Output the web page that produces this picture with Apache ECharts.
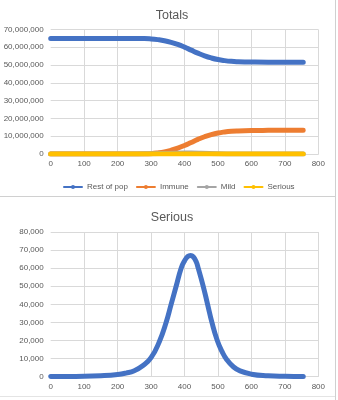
<!DOCTYPE html>
<html>
<head>
<meta charset="utf-8">
<title>Totals / Serious</title>
<script src="https://cdn.jsdelivr.net/npm/echarts@6/dist/echarts.min.js"></script>
<style>
  html, body { margin: 0; padding: 0; background: #ffffff; }
  #chart { width: 338px; height: 400px; }
</style>
</head>
<body>
<div id="chart"></div>
<script>
// Population model output, by day
const restDays = [0, 100, 200, 280, 300, 320, 340, 360, 380, 400, 420, 440, 460, 480, 500, 520, 540, 560, 600, 650, 700, 755];
const restOfPop = [65000000, 65000000, 65000000, 64900000, 64700000, 64300000, 63700000, 62800000, 61600000, 60100000, 58400000, 56700000, 55200000, 54000000, 53100000, 52500000, 52100000, 51900000, 51700000, 51600000, 51600000, 51600000];
const immune = [0, 0, 0, 50000, 200000, 600000, 1200000, 2100000, 3300000, 4800000, 6500000, 8200000, 9700000, 10900000, 11800000, 12400000, 12800000, 13000000, 13200000, 13300000, 13350000, 13400000];

const mildDays = [0, 200, 260, 300, 350, 400, 420, 450, 500, 550, 600, 755];
const mild = [0, 20000, 60000, 150000, 350000, 500000, 520000, 450000, 200000, 60000, 20000, 0];

const seriousDays = [0, 50, 100, 150, 200, 225, 250, 275, 300, 325, 345, 360, 375, 390, 400, 410, 418, 426, 435, 441, 456, 469, 482, 498, 512, 526, 546, 566, 600, 650, 700, 755];
const serious = [100, 150, 200, 500, 1200, 2000, 3300, 6000, 10500, 19500, 30000, 40000, 50000, 60000, 64000, 66500, 67000, 66300, 63500, 60000, 50000, 40000, 30000, 20000, 14000, 9500, 5500, 3200, 1400, 500, 200, 100];

const xTicks = { min: 0, max: 800, interval: 100 };
const totalsAxis = { min: 0, max: 70000000, interval: 10000000 };
const seriousAxis = { min: 0, max: 80000, interval: 10000 };

const legendNames = ['Rest of pop', 'Immune', 'Mild', 'Serious'];
const colors = { rest: '#4472C4', immune: '#ED7D31', mild: '#A5A5A5', serious: '#FFC000' };

const pairs = (xs, ys) => xs.map((x, i) => [x, ys[i]]);

const textColor = '#595959';
const gridColor = '#D9D9D9';
const font = 'Liberation Sans, Arial, sans-serif';

function xAxisFor(gridIndex) {
  return {
    type: 'value', gridIndex,
    min: xTicks.min, max: xTicks.max, interval: xTicks.interval,
    axisLine: { show: true, lineStyle: { color: gridColor, width: 1 } },
    axisTick: { show: false },
    axisLabel: { color: textColor, fontSize: 8, fontFamily: font, margin: 6 },
    splitLine: { show: true, showMinLine: false, lineStyle: { color: gridColor, width: 1 } }
  };
}
function yAxisFor(gridIndex, range) {
  return {
    type: 'value', gridIndex,
    min: range.min, max: range.max, interval: range.interval,
    axisLine: { show: false },
    axisTick: { show: false },
    axisLabel: {
      color: textColor, fontSize: 8, fontFamily: font, margin: 7,
      formatter: v => v.toLocaleString('en-US')
    },
    splitLine: { show: true, lineStyle: { color: gridColor, width: 1 } }
  };
}
function lineSeries(name, color, data, axisIndex, z) {
  return {
    name, type: 'line', data,
    xAxisIndex: axisIndex, yAxisIndex: axisIndex,
    symbol: 'circle', symbolSize: 4, showSymbol: false,
    smooth: 0.5,
    color,
    lineStyle: { color, width: 5, cap: 'round', join: 'round' },
    itemStyle: { color },
    emphasis: { disabled: true },
    animation: false, z
  };
}

const chart = echarts.init(document.getElementById('chart'), null, { renderer: 'canvas' });
chart.setOption({
  backgroundColor: '#ffffff',
  animation: false,
  title: [
    { text: 'Totals', left: 167, top: 4, textAlign: 'center',
      textStyle: { color: textColor, fontSize: 12.5, fontWeight: 'normal', fontFamily: font } },
    { text: 'Serious', left: 167, top: 206, textAlign: 'center',
      textStyle: { color: textColor, fontSize: 12.5, fontWeight: 'normal', fontFamily: font } }
  ],
  legend: {
    data: legendNames,
    left: 58, top: 178,
    itemWidth: 18, itemHeight: 5, itemGap: 8,
    textStyle: { color: textColor, fontSize: 8, fontFamily: font },
    selectedMode: false
  },
  grid: [
    { left: 50.7, right: 19.7, top: 29.5, bottom: 246 },
    { left: 50.7, right: 19.7, top: 232, bottom: 23.3 }
  ],
  xAxis: [xAxisFor(0), xAxisFor(1)],
  yAxis: [yAxisFor(0, totalsAxis), yAxisFor(1, seriousAxis)],
  series: [
    lineSeries('Rest of pop', colors.rest, pairs(restDays, restOfPop), 0, 2),
    lineSeries('Immune', colors.immune, pairs(restDays, immune), 0, 3),
    lineSeries('Mild', colors.mild, pairs(mildDays, mild), 0, 4),
    lineSeries('Serious', colors.serious, pairs(seriousDays, serious), 0, 5),
    lineSeries('Serious', colors.rest, pairs(seriousDays, serious), 1, 2)
  ],
  graphic: [
    { type: 'line', shape: { x1: 0, y1: 196.5, x2: 335, y2: 196.5 }, style: { stroke: '#D0D0D0', lineWidth: 1 }, silent: true },
    { type: 'line', shape: { x1: 335.5, y1: 0, x2: 335.5, y2: 400 }, style: { stroke: '#D0D0D0', lineWidth: 1 }, silent: true },
    { type: 'line', shape: { x1: 0, y1: 396.5, x2: 335, y2: 396.5 }, style: { stroke: '#E4E4E4', lineWidth: 1 }, silent: true }
  ]
});
</script>
</body>
</html>
